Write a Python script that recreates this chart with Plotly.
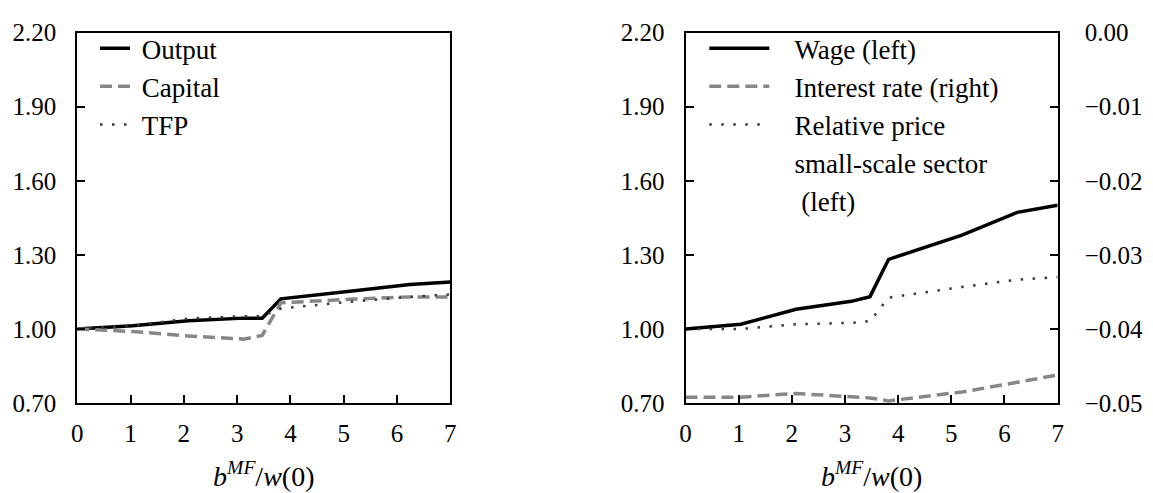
import plotly.graph_objects as go

# ---------------- data ----------------
b_grid = [0, 1.04, 2.08, 3.12, 3.47, 3.82, 5.20, 6.24, 7.0]

output = [1.00, 1.013, 1.033, 1.044, 1.044, 1.122, 1.155, 1.18, 1.19]
capital = [1.00, 0.99, 0.972, 0.959, 0.974, 1.106, 1.121, 1.13, 1.13]
tfp = [1.00, 1.013, 1.042, 1.052, 1.052, 1.083, 1.112, 1.13, 1.14]

wage = [1.00, 1.019, 1.080, 1.112, 1.131, 1.282, 1.380, 1.472, 1.501]
interest = [-0.0492, -0.0492, -0.0487, -0.0492, -0.0493, -0.0497, -0.0485, -0.0472, -0.0462]
rel_price = [1.00, 1.00, 1.019, 1.025, 1.032, 1.127, 1.170, 1.200, 1.210]

y_ticks = [0.70, 1.00, 1.30, 1.60, 1.90, 2.20]
y_ticklabels = ["0.70", "1.00", "1.30", "1.60", "1.90", "2.20"]
y2_ticks = [0.00, -0.01, -0.02, -0.03, -0.04, -0.05]
y2_ticklabels = ["0.00", "\u22120.01", "\u22120.02", "\u22120.03", "\u22120.04", "\u22120.05"]
x_ticks = [0, 1, 2, 3, 4, 5, 6, 7]

# ---------------- style ----------------
FONT = "Liberation Serif"
FS = 25
LFS = 27
TFS = 28
BLACK = "#000000"
GRAY = "#878787"
DGRAY = "#3a3a3a"
DASH = "12px,6px"
DOT = "2.5px,9.5px"
NB = "\u00a0"

fig = go.Figure()

# left panel
fig.add_trace(go.Scatter(x=b_grid, y=output, mode="lines", name=NB + "Output",
                         line=dict(color=BLACK, width=3.5), xaxis="x", yaxis="y",
                         legend="legend", legendgroup="a"))
fig.add_trace(go.Scatter(x=b_grid, y=capital, mode="lines", name=NB + "Capital",
                         line=dict(color=GRAY, width=3.5, dash=DASH), xaxis="x", yaxis="y",
                         legend="legend", legendgroup="b"))
fig.add_trace(go.Scatter(x=b_grid, y=tfp, mode="lines", name=NB + "TFP",
                         line=dict(color=DGRAY, width=2.5, dash=DOT), xaxis="x", yaxis="y",
                         legend="legend", legendgroup="c"))

# right panel
PAD = NB * 3
fig.add_trace(go.Scatter(x=b_grid, y=wage, mode="lines", name=PAD + "Wage (left)",
                         line=dict(color=BLACK, width=3.5), xaxis="x2", yaxis="y2",
                         legend="legend2", legendgroup="d"))
fig.add_trace(go.Scatter(x=b_grid, y=interest, mode="lines", name=PAD + "Interest rate (right)",
                         line=dict(color=GRAY, width=3.5, dash=DASH), xaxis="x2", yaxis="y3",
                         legend="legend2", legendgroup="e"))
fig.add_trace(go.Scatter(x=b_grid, y=rel_price, mode="lines", name=PAD + "Relative price",
                         line=dict(color=DGRAY, width=2.5, dash=DOT), xaxis="x2", yaxis="y2",
                         legend="legend2", legendgroup="f"))
for i, extra in enumerate(["small-scale sector", NB + "(left)"]):
    fig.add_trace(go.Scatter(x=[None], y=[None], mode="lines", name=PAD + extra,
                             line=dict(color="rgba(0,0,0,0)", width=0), xaxis="x2", yaxis="y2",
                             legend="legend2", legendgroup="g%d" % i, hoverinfo="skip"))

xdomL = [72 / 1153, 449 / 1153]
xdomR = [686.7 / 1153, 1062.7 / 1153]
ydom = [(493 - 412.7) / 493, (493 - 20.7) / 493]

axis_common = dict(showline=True, linecolor=BLACK, linewidth=2.2, ticks="inside",
                   ticklen=8, tickwidth=1.8, tickcolor=BLACK, showgrid=False, zeroline=False,
                   tickfont=dict(family=FONT, size=FS, color=BLACK))

xtitle = "<i>b</i><sup><i>MF</i></sup>/<i>w</i>(0)"

fig.update_layout(
    width=1153, height=493,
    margin=dict(l=0, r=0, t=0, b=0),
    paper_bgcolor="white", plot_bgcolor="white",
    font=dict(family=FONT, size=FS, color=BLACK),
    xaxis=dict(domain=xdomL, range=[0, 7], tickvals=x_ticks, mirror=True, anchor="y",
               ticklabelstandoff=7,
               title=dict(text=xtitle, standoff=20, font=dict(family=FONT, size=TFS)),
               **axis_common),
    yaxis=dict(domain=ydom, range=[0.7, 2.2], tickvals=y_ticks, ticktext=y_ticklabels,
               mirror=True, anchor="x", ticklabelstandoff=14, **axis_common),
    xaxis2=dict(domain=xdomR, range=[0, 7], tickvals=x_ticks, mirror=True, anchor="y2",
                ticklabelstandoff=7,
                title=dict(text=xtitle, standoff=20, font=dict(family=FONT, size=TFS)),
                **axis_common),
    yaxis2=dict(domain=ydom, range=[0.7, 2.2], tickvals=y_ticks, ticktext=y_ticklabels,
                anchor="x2", ticklabelstandoff=14, **axis_common),
    yaxis3=dict(domain=ydom, range=[-0.05, 0.0], tickvals=y2_ticks, ticktext=y2_ticklabels,
                overlaying="y2", side="right", anchor="x2", ticklabelstandoff=20,
                **axis_common),
    legend=dict(x=0.078, y=0.976, xanchor="left", yanchor="top", bgcolor="rgba(0,0,0,0)",
                font=dict(family=FONT, size=LFS), tracegroupgap=0, traceorder="grouped",
                itemwidth=30),
    legend2=dict(x=0.612, y=0.976, xanchor="left", yanchor="top", bgcolor="rgba(0,0,0,0)",
                 font=dict(family=FONT, size=LFS), tracegroupgap=0, traceorder="grouped",
                 itemwidth=60),
    showlegend=True,
)

fig.write_html("out.html")
